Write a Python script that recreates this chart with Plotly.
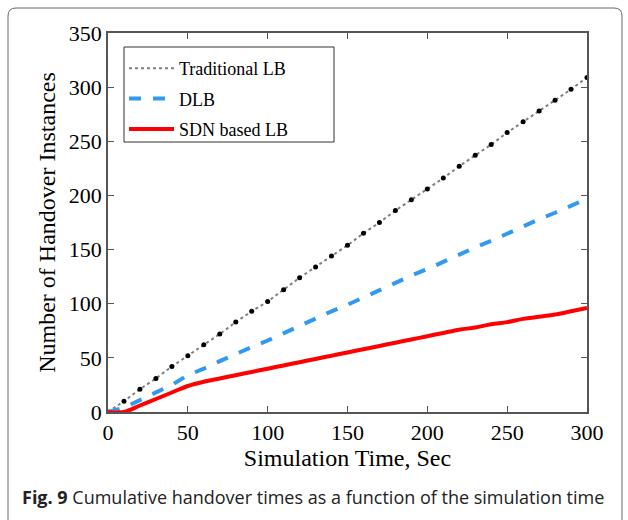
import plotly.graph_objects as go

time = [0, 10, 20, 30, 40, 50, 60, 70, 80, 90, 100, 110, 120, 130, 140, 150,
        160, 170, 180, 190, 200, 210, 220, 230, 240, 250, 260, 270, 280, 290, 300]
traditional = [0, 10, 21, 31, 42, 52, 62, 72, 83, 93, 102, 113, 124, 134, 144, 154,
               165, 175, 186, 196, 206, 216, 227, 237, 247, 258, 268, 278, 288, 298, 309]
dlb = [0, 4, 11, 18, 25, 34, 40, 47, 54, 60, 66, 73, 80, 86, 93, 99,
       106, 113, 119, 126, 132, 139, 145, 152, 158, 165, 171, 178, 184, 191, 197]
sdn = [0, 0, 6, 12, 18, 24, 28, 31, 34, 37, 40, 43, 46, 49, 52, 55,
       58, 61, 64, 67, 70, 73, 76, 78, 81, 83, 86, 88, 90, 93, 96]

serif = "Liberation Serif, Times New Roman, serif"

fig = go.Figure()
fig.add_trace(go.Scatter(x=time, y=traditional, mode="lines", name="Traditional LB",
                         legendgroup="a",
                         line=dict(color="#808080", width=2, dash="dot")))
fig.add_trace(go.Scatter(x=time, y=traditional, mode="markers", showlegend=False,
                         legendgroup="a", marker=dict(color="black", size=5)))
fig.add_trace(go.Scatter(x=time, y=dlb, mode="lines", name="DLB", legendgroup="b",
                         line=dict(color="#3399f0", width=4, dash="dash")))
fig.add_trace(go.Scatter(x=time, y=sdn, mode="lines", name="SDN based LB", legendgroup="c",
                         line=dict(color="#ff0000", width=4, shape="spline")))

L, R, T, B = 108, 41, 33, 108
W, H = 628, 520
pw, ph = W - L - R, H - T - B

def px(x):
    return (x - L) / pw

def py(y):
    return (H - B - y) / ph

x0, x1, y0, y1 = px(8), px(622), py(8), py(540)
rx, ry = 8 / pw, 8 / ph
path = (f"M {x0+rx},{y0} L {x1-rx},{y0} Q {x1},{y0} {x1},{y0-ry} "
        f"L {x1},{y1} L {x0},{y1} L {x0},{y0-ry} Q {x0},{y0} {x0+rx},{y0} Z")

fig.update_layout(
    width=W, height=H,
    margin=dict(l=L, r=R, t=T, b=B),
    paper_bgcolor="white", plot_bgcolor="white",
    font=dict(family=serif, color="black"),
    showlegend=True,
    legend=dict(x=px(124), y=py(50), xanchor="left", yanchor="top",
                borderwidth=0, bgcolor="rgba(0,0,0,0)",
                font=dict(family=serif, size=18), tracegroupgap=4,
                itemwidth=45),
    xaxis=dict(range=[0, 300], tickvals=[0, 50, 100, 150, 200, 250, 300],
               ticks="inside", ticklen=6, tickcolor="#555555", mirror="ticks",
               showline=True, linecolor="#555555", linewidth=1.5, showgrid=False,
               zeroline=False, tickfont=dict(size=22, family=serif),
               title=dict(text="Simulation Time, Sec", font=dict(size=24, family=serif), standoff=4)),
    yaxis=dict(range=[0, 350], tickvals=[0, 50, 100, 150, 200, 250, 300, 350],
               ticks="inside", ticklen=6, tickcolor="#555555", mirror="ticks",
               showline=True, linecolor="#555555", linewidth=1.5, showgrid=False,
               zeroline=False, tickfont=dict(size=22, family=serif),
               title=dict(text="Number of Handover Instances", font=dict(size=24, family=serif), standoff=6)),
    shapes=[dict(type="path", path=path, xref="paper", yref="paper",
                 line=dict(color="#666666", width=1), layer="below"),
            dict(type="rect", xref="paper", yref="paper",
                 x0=px(124), x1=px(334), y0=py(47), y1=py(142),
                 line=dict(color="#333333", width=1), fillcolor="white", layer="below")],
    annotations=[dict(text="<b>Fig. 9</b> Cumulative handover times as a function of the simulation time",
                      xref="paper", yref="paper", x=px(20), y=py(497),
                      xanchor="left", yanchor="middle", showarrow=False,
                      font=dict(family="Open Sans, Noto Sans, sans-serif", size=18, color="#222222"))],
)

fig.write_html("out.html")
